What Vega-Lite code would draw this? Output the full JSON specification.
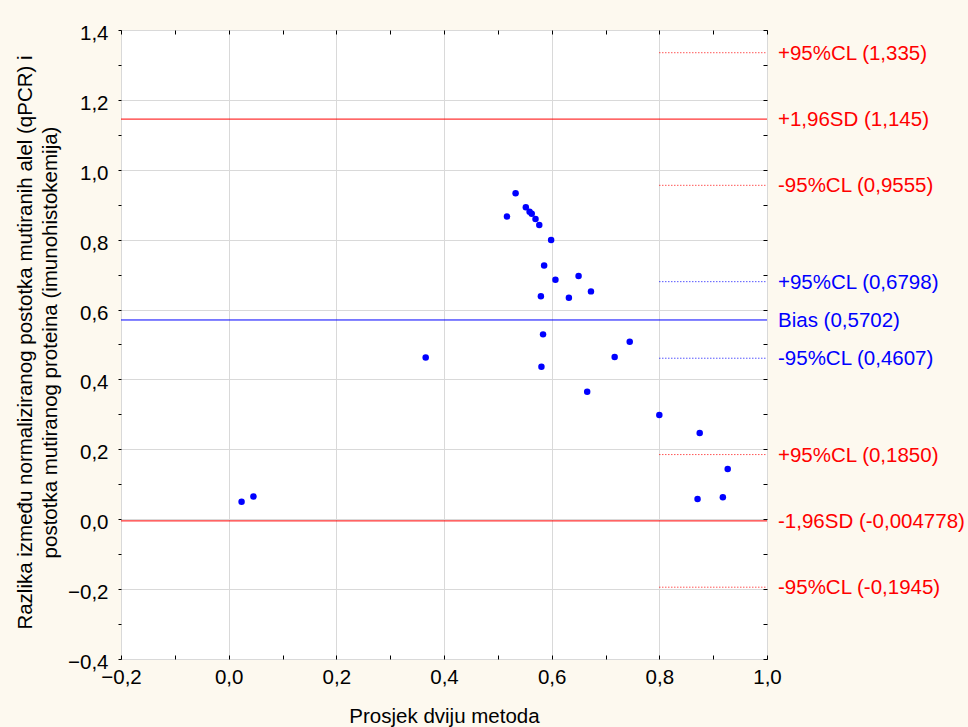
{
  "$schema": "https://vega.github.io/schema/vega-lite/v6.json",
  "width": 646,
  "height": 629,
  "autosize": {"type": "none"},
  "padding": {"left": 121, "top": 30, "right": 201, "bottom": 68},
  "background": "#FDF9EF",
  "config": {
    "view": {"fill": "#FFFFFF", "stroke": "#000000", "strokeWidth": 1},
    "font": "Liberation Sans",
    "axis": {
      "labelFont": "Liberation Sans",
      "titleFont": "Liberation Sans",
      "labelFontSize": 20.5,
      "titleFontSize": 20.5,
      "labelColor": "#000000",
      "titleColor": "#000000",
      "titleFontWeight": "normal",
      "domain": false,
      "tickColor": "#000000",
      "tickWidth": 1,
      "gridColor": "#D9D9D9",
      "gridWidth": 1,
      "labelFlush": false,
      "labelOverlap": false
    }
  },
  "datasets": {
    "points": [
      {"avg": 0.517, "diff": 0.866},
      {"avg": 0.533, "diff": 0.933},
      {"avg": 0.552, "diff": 0.893},
      {"avg": 0.559, "diff": 0.880},
      {"avg": 0.563, "diff": 0.874},
      {"avg": 0.570, "diff": 0.859},
      {"avg": 0.577, "diff": 0.842},
      {"avg": 0.599, "diff": 0.799},
      {"avg": 0.586, "diff": 0.726},
      {"avg": 0.607, "diff": 0.685},
      {"avg": 0.650, "diff": 0.696},
      {"avg": 0.673, "diff": 0.652},
      {"avg": 0.580, "diff": 0.638},
      {"avg": 0.632, "diff": 0.634},
      {"avg": 0.584, "diff": 0.529},
      {"avg": 0.581, "diff": 0.436},
      {"avg": 0.717, "diff": 0.464},
      {"avg": 0.745, "diff": 0.508},
      {"avg": 0.666, "diff": 0.365},
      {"avg": 0.366, "diff": 0.463},
      {"avg": 0.800, "diff": 0.298},
      {"avg": 0.875, "diff": 0.247},
      {"avg": 0.927, "diff": 0.144},
      {"avg": 0.871, "diff": 0.058},
      {"avg": 0.918, "diff": 0.063},
      {"avg": 0.024, "diff": 0.050},
      {"avg": 0.046, "diff": 0.065}
    ],
    "limits": [
      {"label": "+95%CL (1,335)", "v": 1.335, "x0": 0.8, "x1": 1.0, "col": "red", "dash": "dot"},
      {"label": "+1,96SD (1,145)", "v": 1.145, "x0": -0.2, "x1": 1.0, "col": "red", "dash": "solid"},
      {"label": "-95%CL (0,9555)", "v": 0.9555, "x0": 0.8, "x1": 1.0, "col": "red", "dash": "dot"},
      {"label": "+95%CL (0,6798)", "v": 0.6798, "x0": 0.8, "x1": 1.0, "col": "blue", "dash": "dot"},
      {"label": "Bias (0,5702)", "v": 0.5702, "x0": -0.2, "x1": 1.0, "col": "blue", "dash": "solid"},
      {"label": "-95%CL (0,4607)", "v": 0.4607, "x0": 0.8, "x1": 1.0, "col": "blue", "dash": "dot"},
      {"label": "+95%CL (0,1850)", "v": 0.185, "x0": 0.8, "x1": 1.0, "col": "red", "dash": "dot"},
      {"label": "-1,96SD (-0,004778)", "v": -0.004778, "x0": -0.2, "x1": 1.0, "col": "red", "dash": "solid"},
      {"label": "-95%CL (-0,1945)", "v": -0.1945, "x0": 0.8, "x1": 1.0, "col": "red", "dash": "dot"}
    ]
  },
  "layer": [
    {
      "data": {"name": "points"},
      "mark": {"type": "circle", "size": 42, "opacity": 1, "color": "#0000FF"},
      "encoding": {
        "x": {
          "field": "avg", "type": "quantitative",
          "scale": {"domain": [-0.2, 1.0], "nice": false, "zero": false},
          "axis": {
            "orient": "bottom",
            "values": [-0.2, -0.1, 0, 0.1, 0.2, 0.3, 0.4, 0.5, 0.6, 0.7, 0.8, 0.9, 1.0],
            "labelExpr": "abs(round(datum.value*10)) % 2 == 1 ? '' : replace(format(datum.value, '.1f'), '.', ',')",
            "gridOpacity": {"condition": {"test": "abs(round(datum.value*10)) % 2 == 1", "value": 0}, "value": 1},
            "tickSize": -4,
            "labelPadding": 28.5,
            "labelBaseline": "alphabetic",
            "title": "Prosjek dviju metoda",
            "titleX": 323,
            "titleY": 63,
            "titleAlign": "center",
            "titleBaseline": "alphabetic"
          }
        },
        "y": {
          "field": "diff", "type": "quantitative",
          "scale": {"domain": [-0.4, 1.4], "nice": false, "zero": false},
          "axis": {
            "orient": "left",
            "values": [-0.4, -0.3, -0.2, -0.1, 0, 0.1, 0.2, 0.3, 0.4, 0.5, 0.6, 0.7, 0.8, 0.9, 1.0, 1.1, 1.2, 1.3, 1.4],
            "labelExpr": "abs(round(datum.value*10)) % 2 == 1 ? '' : replace(format(datum.value, '.1f'), '.', ',')",
            "gridOpacity": {"condition": {"test": "abs(round(datum.value*10)) % 2 == 1", "value": 0}, "value": 1},
            "tickSize": 3,
            "labelPadding": 10,
            "labelOffset": 3.5,
            "title": ["Razlika između normaliziranog postotka mutiranih alel (qPCR) i", "postotka mutiranog proteina (imunohistokemija)"],
            "titleAngle": -90,
            "titleX": -96,
            "titleY": 312,
            "titleAlign": "center",
            "titleBaseline": "middle",
            "titleLineHeight": 25
          }
        }
      }
    },
    {
      "data": {"name": "limits"},
      "mark": {"type": "rule", "strokeWidth": 1},
      "encoding": {
        "x": {
          "field": "x0", "type": "quantitative",
          "axis": {
            "orient": "top",
            "values": [-0.2, -0.1, 0, 0.1, 0.2, 0.3, 0.4, 0.5, 0.6, 0.7, 0.8, 0.9, 1.0],
            "labels": false, "grid": false, "tickSize": -4, "title": null
          }
        },
        "x2": {"field": "x1"},
        "y": {
          "field": "v", "type": "quantitative",
          "axis": {
            "orient": "right",
            "values": [-0.4, -0.3, -0.2, -0.1, 0, 0.1, 0.2, 0.3, 0.4, 0.5, 0.6, 0.7, 0.8, 0.9, 1.0, 1.1, 1.2, 1.3, 1.4],
            "labels": false, "grid": false, "tickSize": -4, "title": null
          }
        },
        "color": {"field": "col", "type": "nominal", "scale": {"domain": ["red", "blue"], "range": ["#FF0000", "#0000FF"]}, "legend": null},
        "strokeDash": {"field": "dash", "type": "nominal", "scale": {"domain": ["solid", "dot"], "range": [[1, 0], [1, 2]]}, "legend": null}
      }
    },
    {
      "mark": {"type": "rule", "color": "#000000", "strokeWidth": 1},
      "encoding": {
        "y": {"datum": 0, "type": "quantitative", "axis": null}
      }
    },
    {
      "data": {"name": "limits"},
      "mark": {"type": "text", "align": "left", "baseline": "middle", "dx": 11, "dy": 1, "fontSize": 20.5, "font": "Liberation Sans"},
      "encoding": {
        "x": {"datum": 1.0, "type": "quantitative", "axis": null},
        "y": {"field": "v", "type": "quantitative", "axis": null},
        "text": {"field": "label"},
        "color": {"field": "col", "type": "nominal", "scale": {"domain": ["red", "blue"], "range": ["#FF0000", "#0000FF"]}, "legend": null}
      }
    }
  ],
  "resolve": {"axis": {"x": "independent", "y": "independent"}}
}
